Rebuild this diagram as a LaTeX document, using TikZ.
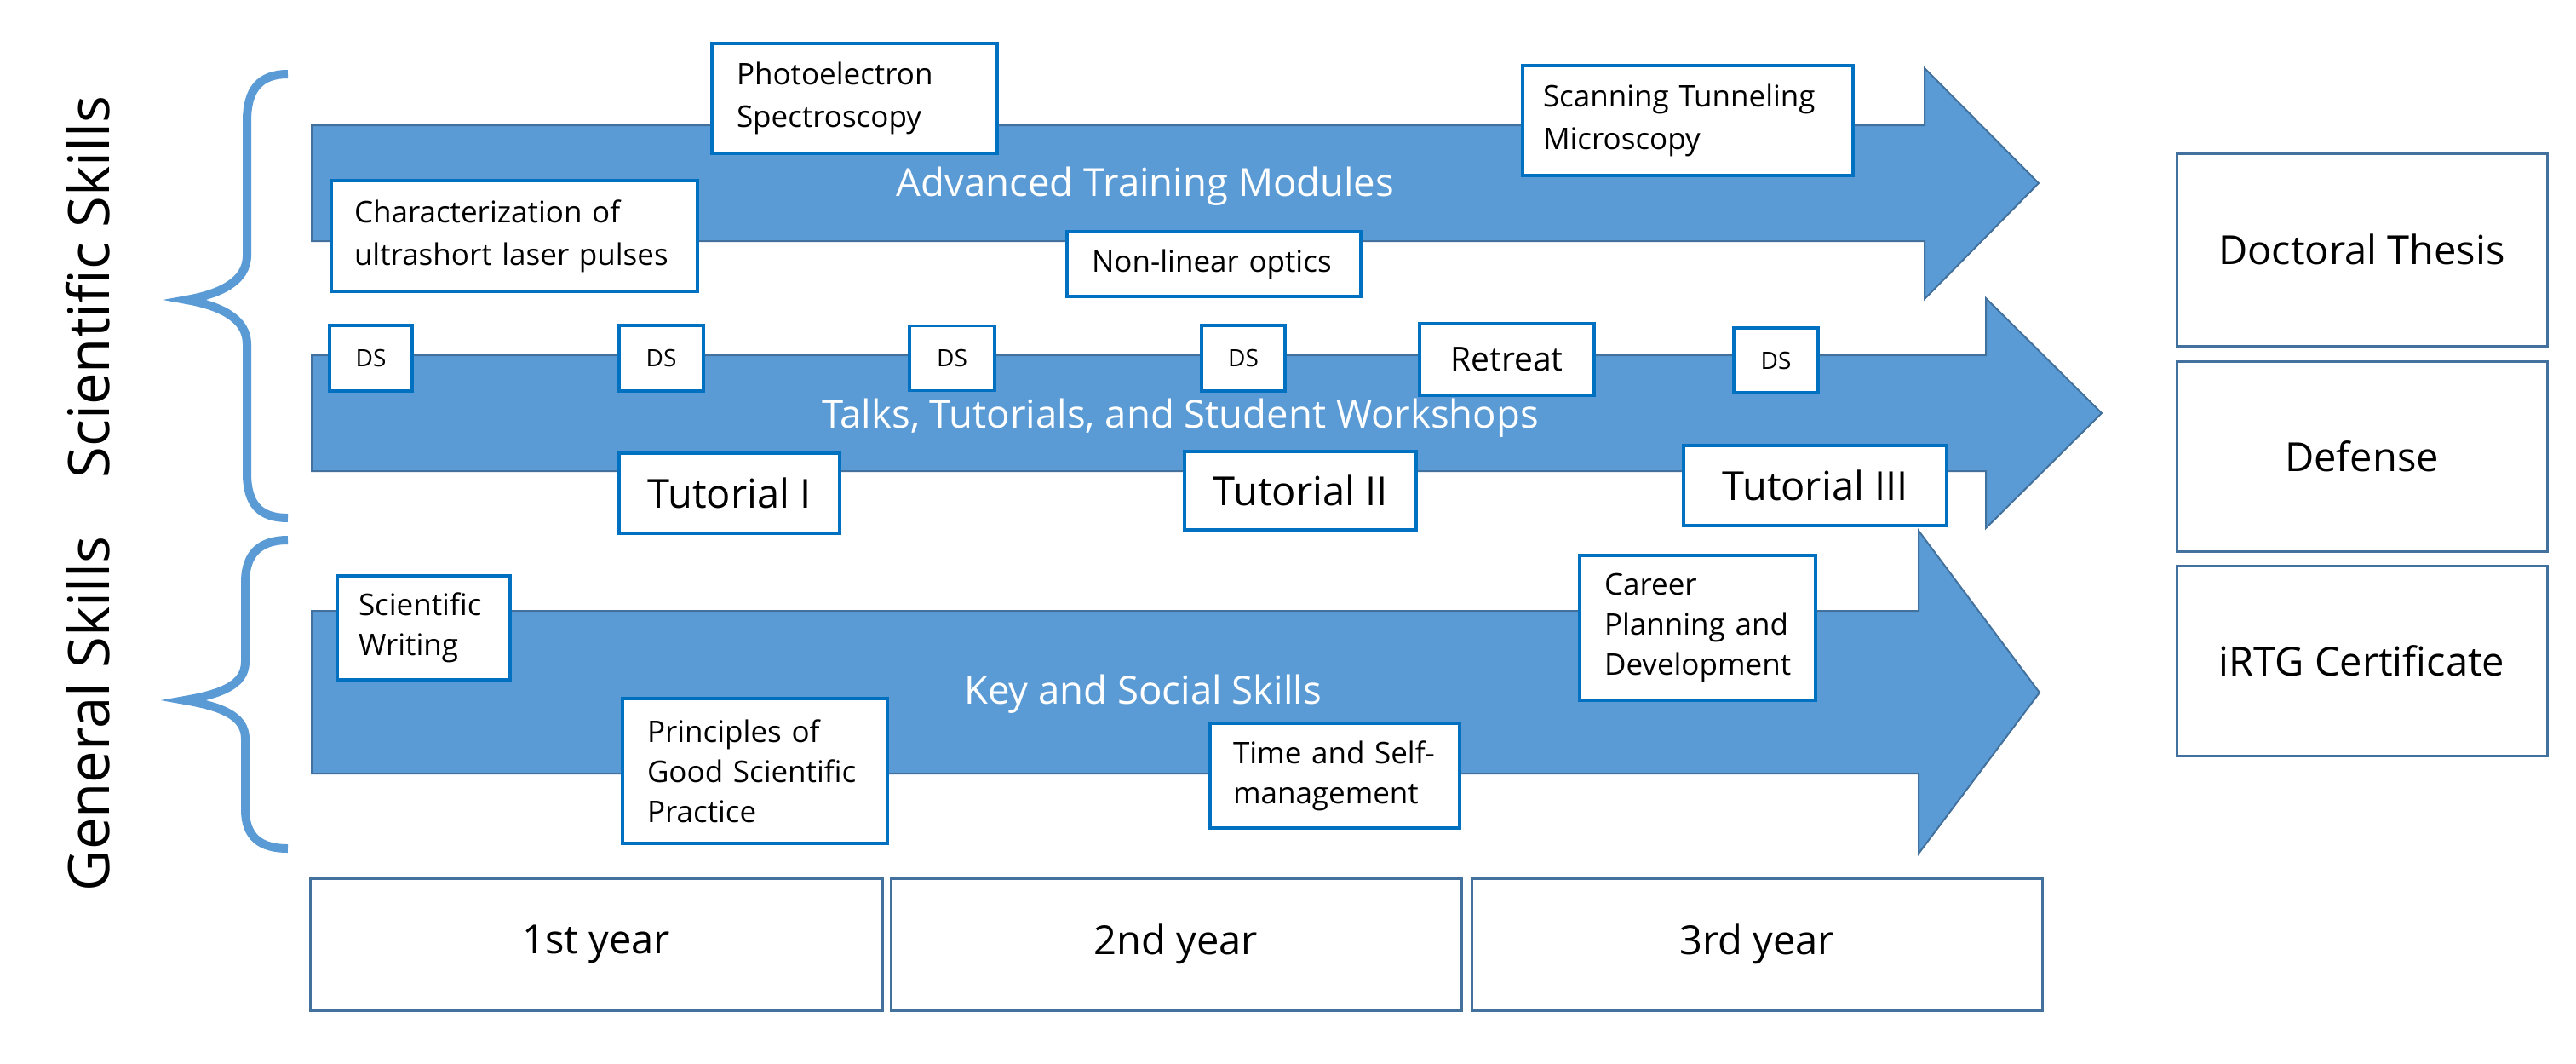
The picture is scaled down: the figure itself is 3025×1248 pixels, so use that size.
\documentclass[tikz,border=0pt]{standalone}
\usepackage{fontspec}
\setmainfont{Open Sans}
\definecolor{arrowfill}{HTML}{5B9BD5}
\definecolor{arrowline}{HTML}{41719C}
\definecolor{boxblue}{HTML}{0070C0}
\definecolor{frameblue}{HTML}{41719C}
\newcommand{\fntSmall}{\fontsize{35pt}{50pt}\selectfont}
\newcommand{\fntSmallB}{\fontsize{35pt}{47pt}\selectfont}
\newcommand{\fntDS}{\fontsize{28pt}{34pt}\selectfont}
\newcommand{\fntRet}{\fontsize{39pt}{47pt}\selectfont}
\newcommand{\fntLarge}{\fontsize{47pt}{56pt}\selectfont}
\newcommand{\fntArrow}{\fontsize{45.5pt}{55pt}\selectfont}
\newcommand{\fntSide}{\fontsize{67pt}{80pt}\selectfont}
\begin{document}
\begin{tikzpicture}[x=1pt,y=-1pt,
  arrowshape/.style={fill=arrowfill, draw=arrowline, line width=2pt, line join=miter},
  bracepath/.style={draw=arrowfill, line width=10pt, line join=miter, miter limit=10},
  leftbox/.style={draw=boxblue, line width=3.5pt, fill=white, anchor=north west, inner ysep=0pt, outer sep=0pt, align=left},
  cbox/.style={draw=boxblue, line width=3.5pt, fill=white, inner sep=0pt, outer sep=0pt},
  framebox/.style={draw=frameblue, line width=3pt, fill=white, inner sep=0pt, outer sep=0pt, font=\fntLarge},
  arrowlabel/.style={text=white, anchor=base, font=\fntArrow, inner sep=0pt},
  sidelabel/.style={rotate=90, anchor=base, font=\fntSide, inner sep=0pt}
]
\useasboundingbox (0,0) rectangle (3025,1248);
\fill[white] (0,0) rectangle (3025,1248);

% braces
\draw[bracepath] (338,87) .. controls (305,87) and (290,105) .. (290,142) -- (290,300)
  .. controls (290,330) and (259,345) .. (219,352)
  .. controls (259,359) and (290,374) .. (290,404) -- (290,555)
  .. controls (290,592) and (305,608) .. (338,608);
\draw[bracepath] (338,634) .. controls (305,634) and (288,650) .. (288,684) -- (288,777)
  .. controls (288,805) and (257,815) .. (217,822)
  .. controls (257,829) and (288,839) .. (288,867) -- (288,950)
  .. controls (288,982) and (305,996) .. (338,996);

% side labels
\node[sidelabel] (sci) at (128,337) {Scientific Skills};
\node[sidelabel] (gen) at (128,838) {General Skills};

% block arrows
\draw[arrowshape] (366,147) -- (2260,147) -- (2260,80) -- (2394,215) -- (2260,351) -- (2260,283) -- (366,283) -- cycle;
\draw[arrowshape] (366,417) -- (2332,417) -- (2332,350) -- (2468,485) -- (2332,620) -- (2332,553) -- (366,553) -- cycle;
\draw[arrowshape] (366,717) -- (2253,717) -- (2253,623) -- (2395,813) -- (2253,1002) -- (2253,908) -- (366,908) -- cycle;

\node[arrowlabel] (atm) at (1345,230) {Advanced Training Modules};
\node[arrowlabel] (talks) at (1386,502) {Talks, Tutorials, and Student Workshops};
\node[arrowlabel] (kss) at (1342,826) {Key and Social Skills};

% top row boxes
\node[leftbox, font=\fntSmall, text width=376pt, inner xsep=27pt, minimum height=130pt] (char) at (389,212) {\mbox{Characterization of}\\\mbox{ultrashort laser pulses}};
\node[leftbox, font=\fntSmall, text width=277pt, inner xsep=29pt, minimum height=129pt] (pes) at (836,51) {\mbox{Photoelectron}\\\mbox{Spectroscopy}};
\node[leftbox, font=\fntSmall, text width=287pt, inner xsep=29pt, minimum height=76pt] (nlo) at (1253,272) {\mbox{Non-linear optics}};
\node[leftbox, font=\fntSmall, text width=340pt, inner xsep=24pt, minimum height=129pt] (stm) at (1788,77) {\mbox{Scanning Tunneling}\\\mbox{Microscopy}};

% middle row boxes
\node[cbox, font=\fntDS, minimum width=97pt, minimum height=77pt] (ds1) at (435.5,420.5) {DS};
\node[cbox, font=\fntDS, minimum width=99pt, minimum height=77pt] (ds2) at (776.5,420.5) {DS};
\node[cbox, font=\fntDS, minimum width=100pt, minimum height=76pt] (ds3) at (1118,420.5) {DS};
\node[cbox, font=\fntDS, minimum width=98pt, minimum height=77pt] (ds4) at (1460,420.5) {DS};
\node[cbox, font=\fntDS, minimum width=99pt, minimum height=76pt] (ds5) at (2085.5,423) {DS};
\node[cbox, font=\fntRet, minimum width=205pt, minimum height=84pt] (ret) at (1769.5,422) {Retreat};
\node[cbox, font=\fntLarge, minimum width=259pt, minimum height=94pt] (tut1) at (856.5,579) {Tutorial I};
\node[cbox, font=\fntLarge, minimum width=272pt, minimum height=92pt] (tut2) at (1527,576) {Tutorial II};
\node[cbox, font=\fntLarge, minimum width=309pt, minimum height=94pt] (tut3) at (2131.5,570) {Tutorial III};

% bottom row boxes
\node[leftbox, font=\fntSmallB, text width=153pt, inner xsep=25pt, minimum height=122pt] (sw) at (396,676) {\mbox{Scientific}\\\mbox{Writing}};
\node[leftbox, font=\fntSmallB, text width=253pt, inner xsep=29pt, minimum height=170pt] (pgsp) at (731,820) {\mbox{Principles of}\\\mbox{Good Scientific}\\\mbox{Practice}};
\node[leftbox, font=\fntSmallB, text width=239pt, inner xsep=27pt, minimum height=123pt] (tsm) at (1421,849) {\mbox{Time and Self-}\\\mbox{management}};
\node[leftbox, font=\fntSmallB, text width=219pt, inner xsep=29pt, minimum height=170pt] (cpd) at (1855,652) {\mbox{Career}\\\mbox{Planning and}\\\mbox{Development}};

% outcome boxes
\node[framebox, minimum width=435pt, minimum height=226pt] (thesis) at (2773.5,293) {Doctoral Thesis};
\node[framebox, minimum width=435pt, minimum height=223pt] (defense) at (2773.5,535.5) {Defense};
\node[framebox, minimum width=435pt, minimum height=223pt] (cert) at (2773.5,775.5) {iRTG Certificate};

% year boxes
\node[framebox, minimum width=672pt, minimum height=155pt] (y1) at (700,1108.5) {1st year};
\node[framebox, minimum width=670pt, minimum height=155pt] (y2) at (1381,1108.5) {2nd year};
\node[framebox, minimum width=670pt, minimum height=155pt] (y3) at (2063,1108.5) {3rd year};
\end{tikzpicture}
\end{document}
